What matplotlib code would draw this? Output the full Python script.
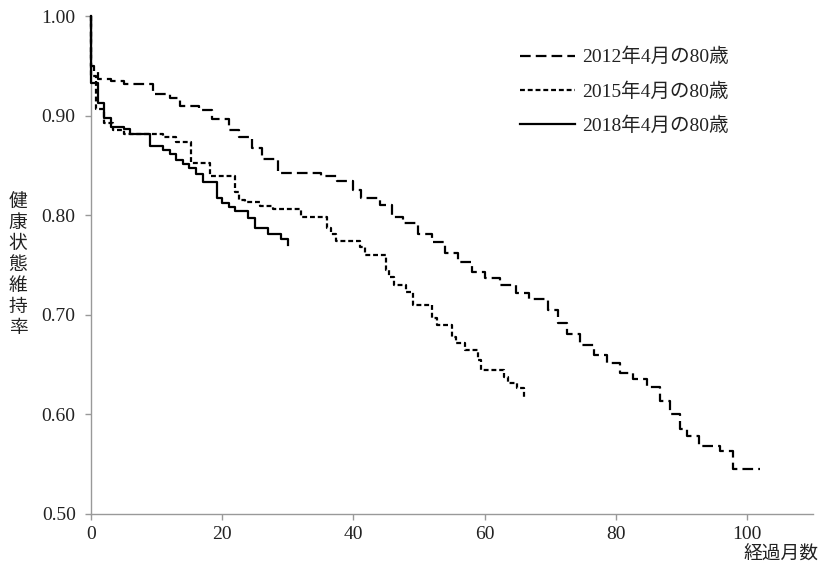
import matplotlib
matplotlib.use("Agg")
import matplotlib.pyplot as plt

plt.rcParams['font.family'] = ['Liberation Serif', 'Noto Sans CJK JP', 'DejaVu Sans']

# ---- data (months, survival-like rate) ----
labels = ["2012年4月の80歳", "2015年4月の80歳", "2018年4月の80歳"]

t2012 = [0, 0, 0.5, 1, 3, 5, 9.5, 12, 13.5, 16.5, 18.5, 21, 22.5, 24.5, 26, 28.5,
         35, 37.5, 40, 41.2, 44, 45.8, 47.5, 49.8, 51.9, 53.9, 55.9, 58, 60.1,
         62.3, 64.8, 66.8, 69.6, 71.1, 72.6, 74.5, 76.6, 78.6, 80.6, 82.6, 84.7,
         86.7, 88.2, 89.7, 90.8, 92.6, 95.8, 97.8, 102]
v2012 = [1.0, 0.950, 0.945, 0.937, 0.935, 0.932, 0.922, 0.918, 0.910, 0.906, 0.897,
         0.886, 0.879, 0.868, 0.857, 0.843, 0.840, 0.835, 0.826, 0.818, 0.811,
         0.798, 0.792, 0.781, 0.773, 0.762, 0.753, 0.743, 0.737, 0.730, 0.722,
         0.716, 0.705, 0.692, 0.681, 0.670, 0.660, 0.652, 0.642, 0.636, 0.628,
         0.614, 0.600, 0.585, 0.578, 0.568, 0.563, 0.545, 0.545]

t2015 = [0, 0, 0.8, 2, 3.3, 5, 11, 13, 15.3, 18.1, 22, 22.6, 23.5, 25.7, 27.7, 32,
         36, 36.6, 37.3, 41, 41.8, 45, 45.4, 46.2, 48, 49, 52, 52.7, 55, 55.6,
         57, 59, 59.5, 63, 63.6, 65, 66]
v2015 = [1.0, 0.940, 0.907, 0.893, 0.886, 0.882, 0.879, 0.874, 0.853, 0.840, 0.824,
         0.816, 0.814, 0.810, 0.806, 0.798, 0.787, 0.781, 0.774, 0.768, 0.760,
         0.745, 0.738, 0.730, 0.723, 0.710, 0.697, 0.690, 0.678, 0.672, 0.665,
         0.655, 0.645, 0.638, 0.632, 0.627, 0.616]

t2018 = [0, 0, 1, 2, 3, 5, 6, 9, 11, 12, 13, 14, 15, 16, 17, 19.2, 20, 21, 22, 24,
         25, 27, 29, 30]
v2018 = [1.0, 0.933, 0.913, 0.898, 0.889, 0.887, 0.882, 0.870, 0.866, 0.862, 0.856,
         0.852, 0.848, 0.842, 0.834, 0.818, 0.813, 0.809, 0.804, 0.797, 0.787,
         0.781, 0.776, 0.770]

yticks = [0.50, 0.60, 0.70, 0.80, 0.90, 1.00]
xticks = [0, 20, 40, 60, 80, 100]

fig = plt.figure(figsize=(8.21, 5.67), dpi=100)
ax = fig.add_axes([0.1108, 0.0935, 0.8792, 0.8775])

lw = 1.6
ax.plot(t2012, v2012, drawstyle='steps-post', color='black', lw=lw,
        linestyle=(0, (4.8, 2.3)), label=labels[0], clip_on=False, zorder=3)
ax.plot(t2015, v2015, drawstyle='steps-post', color='black', lw=lw,
        linestyle=(0, (2.2, 1.3)), label=labels[1], clip_on=False, zorder=3)
ax.plot(t2018, v2018, drawstyle='steps-post', color='black', lw=lw,
        linestyle='-', label=labels[2], clip_on=False, zorder=3)

ax.set_xlim(0, 110)
ax.set_ylim(0.50, 1.00)
ax.set_xticks(xticks)
ax.set_yticks(yticks)
ax.set_yticklabels([f"{v:.2f}" for v in yticks])
ax.set_xticklabels([str(v) for v in xticks])

for s in ['top', 'right']:
    ax.spines[s].set_visible(False)
for s in ['left', 'bottom']:
    ax.spines[s].set_color('#999999')
    ax.spines[s].set_linewidth(1.0)
ax.tick_params(axis='both', direction='out', length=4, width=1.0, color='#999999',
               labelsize=14, labelcolor='#222222')
ax.tick_params(axis='y', pad=7)
ax.tick_params(axis='x', pad=5)

leg = ax.legend(loc='upper left', bbox_to_anchor=(0.594, 0.937), frameon=False,
                fontsize=14, handlelength=2.85, handletextpad=0.36,
                labelspacing=0.82, borderpad=0, borderaxespad=0)
for txt in leg.get_texts():
    txt.set_color('#222222')

fig.text(0.022, 0.533, "\n".join("健康状態維持率"), family=['Noto Sans CJK JP'],
         fontsize=13.5, ha='center', va='center', linespacing=1.0, color='#222222')
fig.text(0.997, 0.004, "経過月数", family=['Noto Sans CJK JP'], fontsize=13.5,
         ha='right', va='bottom', color='#222222')

fig.savefig("out.png", dpi=100)
